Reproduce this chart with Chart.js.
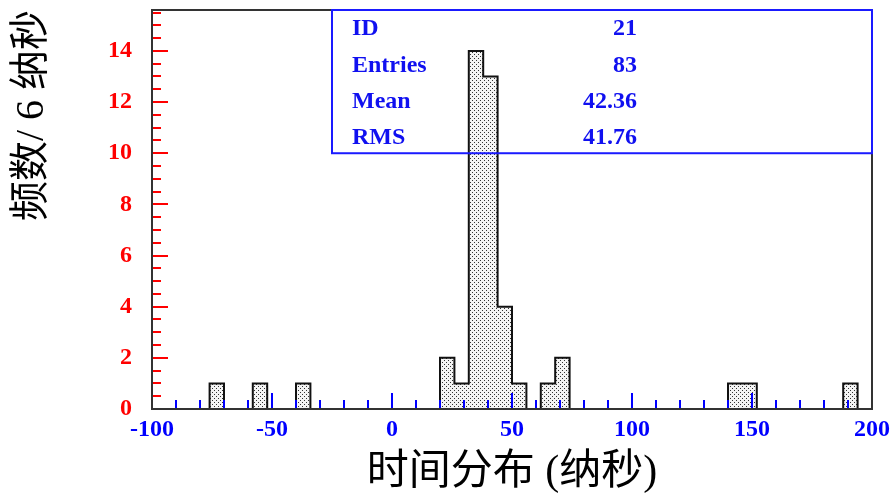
<!DOCTYPE html>
<html>
<head>
<meta charset="utf-8">
<script src="https://cdn.jsdelivr.net/npm/chart.js@4"></script>
<style>
  html, body { margin: 0; padding: 0; background: #fff; }
  #wrap { width: 891px; height: 495px; }
</style>
</head>
<body>
<div id="wrap"><canvas id="c" width="891" height="495"></canvas></div>
<script>
// Histogram: time distribution, 6 ns bins from -100 to 200
const binStart = -100;
const binWidth = 6;
const counts = [
  0, 0, 0, 0, 1, 0, 0, 1, 0, 0,
  1, 0, 0, 0, 0, 0, 0, 0, 0, 0,
  2, 1, 14, 13, 4, 1, 0, 1, 2, 0,
  0, 0, 0, 0, 0, 0, 0, 0, 0, 0,
  1, 1, 0, 0, 0, 0, 0, 0, 1, 0
];
const statLabels = ['ID', 'Entries', 'Mean', 'RMS'];
const statValues = ['21', '83', '42.36', '41.76'];
const xTitle = '时间分布 (纳秒)';
const yTitle = '频数/ 6 纳秒';

const xMin = -100, xMax = 200, yMax = 15.6;

// bar centres and outline vertices
const barData = counts.map((c, i) => ({ x: binStart + binWidth * (i + 0.5), y: c }));
const stepData = counts.map((c, i) => ({ x: binStart + binWidth * i, y: c }));
stepData.push({ x: binStart + binWidth * counts.length, y: 0 });

// dotted fill
function dotPattern() {
  const p = document.createElement('canvas');
  p.width = 4; p.height = 4;
  const g = p.getContext('2d');
  g.fillStyle = '#f4f4f4';
  g.fillRect(0, 0, 4, 4);
  g.fillStyle = '#333';
  g.fillRect(0, 0, 1, 1);
  g.fillRect(2, 2, 1, 1);
  return g.createPattern(p, 'repeat');
}
const ctx0 = document.getElementById('c').getContext('2d');
const fillPattern = dotPattern();

const serif = "'Liberation Serif', 'Times New Roman', serif";
const titleFamily = "'Liberation Serif', 'Noto Sans CJK SC', serif";

function noScalePadding(s) {
  s.paddingTop = 0; s.paddingBottom = 0;
  s.paddingLeft = 0; s.paddingRight = 0;
}

// frame, inward tick marks and the statistics box
const decorations = {
  id: 'decorations',
  afterDatasetsDraw(chart) {
    const { ctx, chartArea: a, scales: { x, y } } = chart;
    ctx.save();
    // y ticks (red, inward)
    ctx.strokeStyle = '#ff0000';
    ctx.lineWidth = 2;
    for (let v = 0; v <= yMax + 1e-9; v += 0.5) {
      const py = Math.round(y.getPixelForValue(v));
      const major = Math.abs(v % 2) < 1e-9;
      ctx.beginPath();
      ctx.moveTo(a.left, py);
      ctx.lineTo(a.left + (major ? 16 : 9), py);
      ctx.stroke();
    }
    // x ticks (blue, inward)
    ctx.strokeStyle = '#0000ff';
    for (let v = xMin; v <= xMax + 1e-9; v += 10) {
      const px = Math.round(x.getPixelForValue(v));
      const major = Math.abs(v % 50) < 1e-9;
      ctx.beginPath();
      ctx.moveTo(px, a.bottom);
      ctx.lineTo(px, a.bottom - (major ? 16 : 9));
      ctx.stroke();
    }
    // frame
    ctx.strokeStyle = '#333';
    ctx.lineWidth = 2;
    ctx.strokeRect(a.left, a.top, a.right - a.left, a.bottom - a.top);

    // statistics box
    const bx0 = x.getPixelForValue(-25);
    const bx1 = a.right;
    const by0 = a.top;
    const by1 = y.getPixelForValue(10);
    ctx.strokeStyle = '#1a1aff';
    ctx.lineWidth = 2;
    ctx.strokeRect(bx0, by0, bx1 - bx0, by1 - by0);
    ctx.fillStyle = '#1010f0';
    ctx.font = 'bold 24px ' + serif;
    ctx.textBaseline = 'middle';
    const insetTop = 19, insetBottom = 15;
    const step = (by1 - by0 - insetTop - insetBottom) / (statLabels.length - 1);
    statLabels.forEach((lab, i) => {
      const cy = by0 + insetTop + step * i;
      ctx.textAlign = 'left';
      ctx.fillText(lab, bx0 + 20, cy);
      ctx.textAlign = 'right';
      ctx.fillText(statValues[i], bx0 + 305, cy);
    });
    ctx.restore();
  }
};

new Chart(ctx0, {
  type: 'bar',
  data: {
    datasets: [
      {
        type: 'line',
        data: stepData,
        stepped: 'before',
        borderColor: '#111',
        borderWidth: 2,
        pointRadius: 0,
        fill: false,
        order: 0
      },
      {
        type: 'bar',
        data: barData,
        backgroundColor: fillPattern,
        borderWidth: 0,
        barPercentage: 1,
        categoryPercentage: 1,
        order: 1
      }
    ]
  },
  options: {
    responsive: false,
    animation: false,
    devicePixelRatio: 1,
    layout: { padding: { top: 10, right: 19, left: 0, bottom: 0 } },
    plugins: { legend: { display: false }, tooltip: { enabled: false } },
    scales: {
      x: {
        type: 'linear',
        min: xMin,
        max: xMax,
        offset: false,
        grid: { display: false, drawTicks: false },
        border: { display: false },
        ticks: {
          stepSize: 50,
          padding: 6,
          color: '#0000ff',
          font: { family: serif, size: 24, weight: 'bold' },
          maxRotation: 0
        },
        title: {
          display: true,
          text: xTitle,
          color: '#000',
          font: { family: titleFamily, size: 42 },
          padding: { top: 0, bottom: -3 }
        },
        afterFit(s) { s.height = 86; noScalePadding(s); }
      },
      y: {
        min: 0,
        max: yMax,
        grid: { display: false, drawTicks: false },
        border: { display: false },
        ticks: {
          stepSize: 2,
          includeBounds: false,
          padding: 20,
          color: '#ff0000',
          font: { family: serif, size: 24, weight: 'bold', lineHeight: 0.8 }
        },
        title: {
          display: true,
          text: yTitle,
          align: 'end',
          color: '#000',
          font: { family: titleFamily, size: 40 },
          padding: { top: 8, bottom: 0 }
        },
        afterFit(s) { s.width = 152; noScalePadding(s); }
      }
    }
  },
  plugins: [decorations]
});
</script>
</body>
</html>
